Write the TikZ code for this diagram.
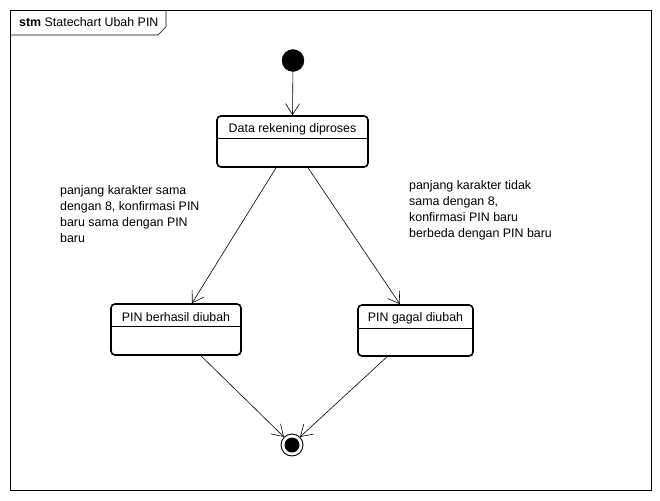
\documentclass[tikz,border=0pt]{standalone}
\usepackage{fontspec}
\setmainfont{Liberation Sans}
\usetikzlibrary{arrows.meta,calc}
\begin{document}
\begin{tikzpicture}[x=1pt,y=-1pt,
  every node/.style={font=\fontsize{12.4}{16}\selectfont, inner sep=0pt},
  statebox/.style={draw, line width=1.6pt, rounded corners=4pt, minimum height=51pt},
  statetitle/.style={anchor=center},
  divider/.style={line width=0.7pt},
  trans/.style={line width=0.6pt, -{Straight Barb[length=11pt,width=14pt,line width=0.6pt]}},
  note/.style={align=left, anchor=north west},
  initstate/.style={circle, fill=black, draw=black, minimum size=22pt},
  finalring/.style={circle, draw=black, line width=0.9pt, minimum size=22pt},
  finaldot/.style={circle, fill=black, minimum size=15pt}
]
\useasboundingbox (0,0) rectangle (660,500);
% frame
\draw[line width=0.7pt] (10,10) rectangle (651,490);
\draw[line width=0.7pt] (10,35) -- (158,35) -- (166,27) -- (166,10);
\node[anchor=base west] (title) at (19,27) {\textbf{stm} Statechart Ubah PIN};

% initial
\node[initstate] (init) at (293,60.5) {};

% states
\node[statebox, minimum width=151pt] (data) at (292.5,141.5) {};
\node[statetitle] (datat) at (292.5,129) {Data rekening diproses};
\draw[divider] ([yshift=-23pt]data.north west) -- ([yshift=-23pt]data.north east);

\node[statebox, minimum width=130pt] (ok) at (176,329.5) {};
\node[statetitle] (okt) at (176,317) {PIN berhasil diubah};
\draw[divider] ([yshift=-23pt]ok.north west) -- ([yshift=-23pt]ok.north east);

\node[statebox, minimum width=115pt] (fail) at (415.5,330.5) {};
\node[statetitle] (failt) at (415.5,318) {PIN gagal diubah};
\draw[divider] ([yshift=-24pt]fail.north west) -- ([yshift=-24pt]fail.north east);

% final
\node[finalring] (final) at (292,445) {};
\node[finaldot] (finaldot) at (292,445) {};

% transitions
\draw[trans] (init) -- (data.north);
\draw[trans] ([xshift=-16.5pt]data.south) -- ([xshift=16pt]ok.north);
\draw[trans] ([xshift=15.5pt]data.south) -- ([xshift=-15.5pt]fail.north);
\draw[trans] ([xshift=25pt]ok.south) -- (final.north west);
\draw[trans] ([xshift=-28.5pt]fail.south) -- (final.north east);

% notes
\node[note] (n1) at (60,185) {panjang karakter sama\\dengan 8, konfirmasi PIN\\baru sama dengan PIN\\baru};
\node[note] (n2) at (409,180) {panjang karakter tidak\\sama dengan 8,\\konfirmasi PIN baru\\berbeda dengan PIN baru};
\end{tikzpicture}
\end{document}
